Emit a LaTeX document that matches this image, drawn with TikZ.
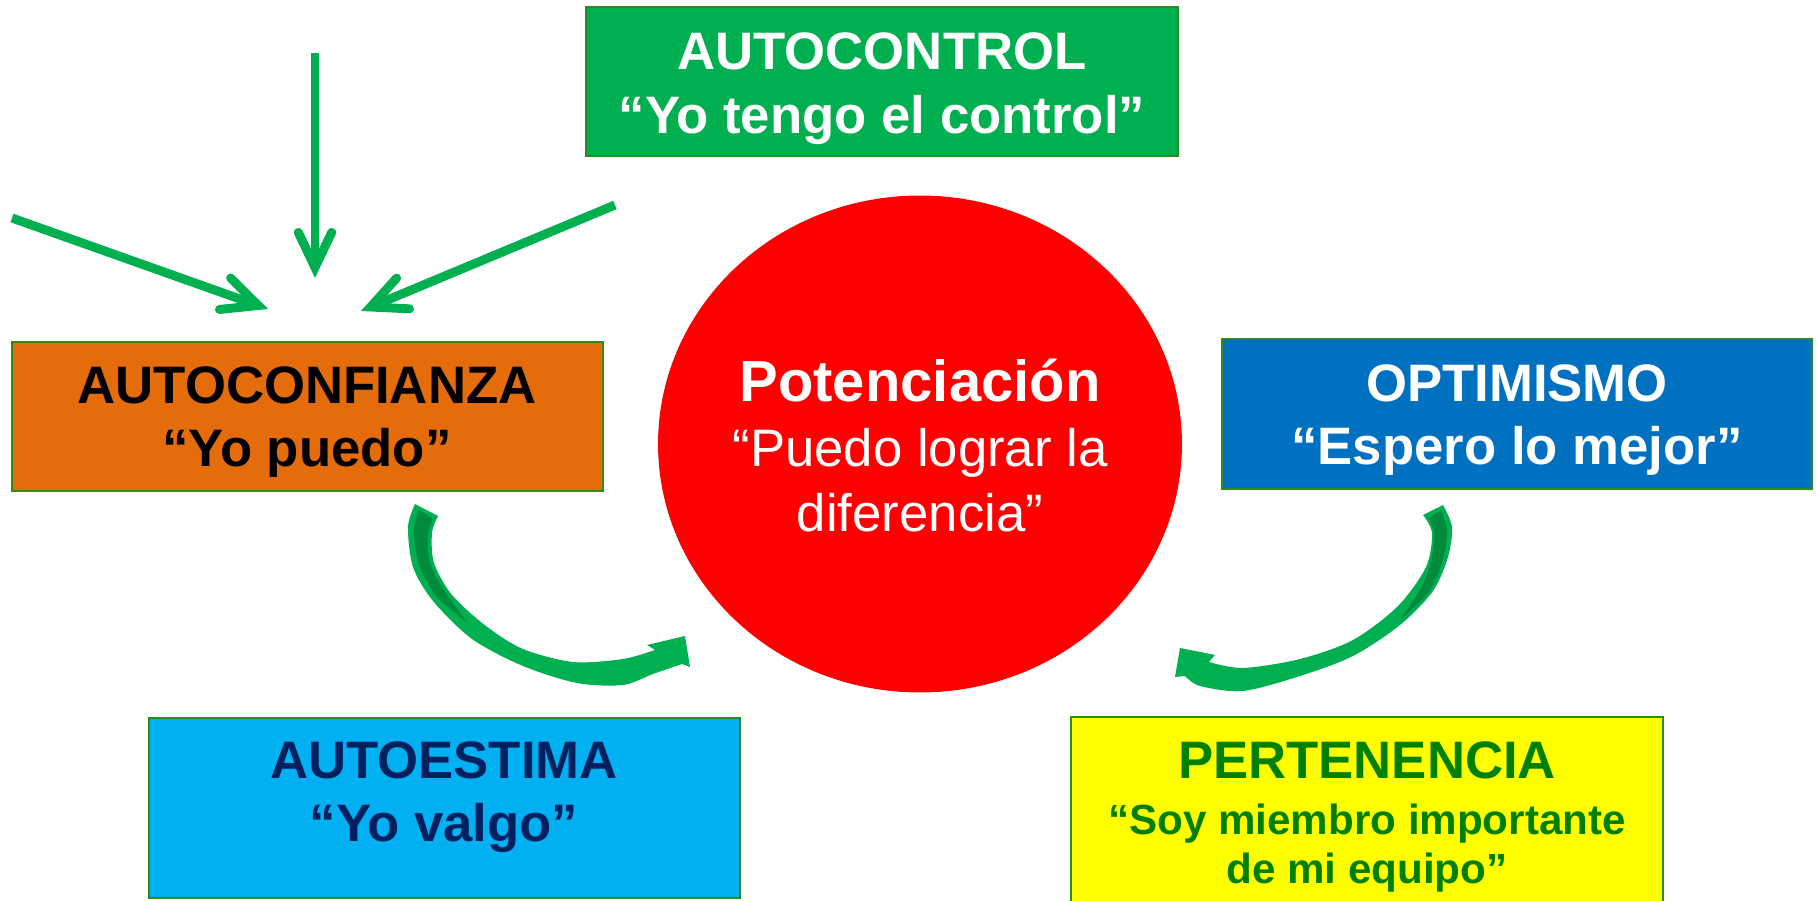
\documentclass[tikz,border=0pt]{standalone}
\usepackage{fontspec}
\setmainfont{Liberation Sans}
\usetikzlibrary{arrows.meta,shapes.geometric,fit}
\definecolor{agreen}{HTML}{00B050}
\definecolor{dgreen}{HTML}{008A3E}
\definecolor{bordergreen}{HTML}{2E8B1E}
\definecolor{orangebox}{HTML}{E46C0A}
\definecolor{bluebox}{HTML}{0070C0}
\definecolor{cyanbox}{HTML}{00B0F0}
\definecolor{navytext}{HTML}{002060}
\definecolor{greentext}{HTML}{008000}
\definecolor{redcircle}{HTML}{FF0000}
\definecolor{yellowbox}{HTML}{FFFF00}
\begin{document}
\begin{tikzpicture}[x=0.02cm,y=-0.02cm,
  box/.style={draw=bordergreen, line width=1pt, inner sep=0pt, rectangle},
  title/.style={anchor=base, inner sep=0pt, font=\fontsize{30}{36}\selectfont\bfseries},
  subtitle/.style={anchor=base, inner sep=0pt, font=\fontsize{24}{29}\selectfont\bfseries},
  bigtitle/.style={anchor=base, inner sep=0pt, font=\fontsize{33}{40}\selectfont\bfseries},
  plain/.style={anchor=base, inner sep=0pt, font=\fontsize{30}{36}\selectfont},
  garrow/.style={draw=agreen, line width=5.1pt, -{Straight Barb[length=20pt, width=19pt, line cap=round, line join=miter]}},
  ribbon/.style={fill=agreen},
  ribbondark/.style={fill=dgreen}]
\useasboundingbox (0,0) rectangle (1816,901);

% boxes
\node[box, fill=agreen, fit={(586,7) (1178,156)}] (autocontrol) {};
\node[box, fill=orangebox, fit={(12,342) (603,491)}] (autoconfianza) {};
\node[box, fill=bluebox, fit={(1222,339) (1812,489)}] (optimismo) {};
\node[box, fill=cyanbox, fit={(149,718) (740,898)}] (autoestima) {};
\node[box, fill=yellowbox, fit={(1071,717) (1663,910)}] (pertenencia) {};
\node[ellipse, fill=redcircle, minimum width=10.48cm, minimum height=9.94cm, inner sep=0pt] (pot) at (920,444) {};

% texts
\node[title, white] (ac1) at (882,70) {AUTOCONTROL};
\node[title, white] (ac2) at (882,134) {“Yo tengo el control”};
\node[title, black] (af1) at (307,404) {AUTOCONFIANZA};
\node[title, black] (af2) at (307,467) {“Yo puedo”};
\node[title, white] (op1) at (1517,402) {OPTIMISMO};
\node[title, white] (op2) at (1517,465) {“Espero lo mejor”};
\node[title, navytext] (ae1) at (444,779) {AUTOESTIMA};
\node[title, navytext] (ae2) at (444,842) {“Yo valgo”};
\node[title, greentext] (pe1) at (1367,779) {PERTENENCIA};
\node[subtitle, greentext] (pe2) at (1367,834) {“Soy miembro importante};
\node[subtitle, greentext] (pe3) at (1367,883) {de mi equipo”};
\node[bigtitle, white] (po1) at (920,402) {Potenciación};
\node[plain, white] (po2) at (920,467) {“Puedo lograr la};
\node[plain, white] (po3) at (920,532) {diferencia”};

% straight arrows
\coordinate (s1) at (12,218);  \coordinate (t1) at (268,309);
\coordinate (s2) at (315,53);  \coordinate (t2) at (315,278);
\coordinate (s3) at (615,205); \coordinate (t3) at (361,311);
\draw[garrow] (s1) -- (t1);
\draw[garrow] (s2) -- (t2);
\draw[garrow] (s3) -- (t3);

% left curved arrow
\fill[ribbon] (415,504) -- plot[smooth] coordinates {(415,504) (408,527) (413,567) (433,601) (472,639) (523,666) (577,683) (623,685) (653,674) (682,664)}
  -- (690,667) -- (685,636) -- (647,645) -- (655,650)
  -- plot[smooth] coordinates {(655,650) (623,659) (573,662) (523,649) (486,626) (452,595) (434,563) (432,533) (438,516)} -- cycle;
\fill[ribbondark] plot[smooth] coordinates {(419,510) (414,530) (419,565) (437,597) (468,623)}
  -- plot[smooth] coordinates {(468,623) (446,593) (430,563) (428,535) (433,519)} -- cycle;

% right curved arrow
\fill[ribbon] (1443,505) -- plot[smooth] coordinates {(1443,505) (1452,527) (1448,557) (1433,591) (1400,625) (1353,656) (1300,676) (1243,691) (1200,686) (1185,676)}
  -- (1175,677) -- (1180,648) -- (1215,655) -- (1209,662)
  -- plot[smooth] coordinates {(1209,662) (1243,668) (1300,659) (1353,640) (1398,606) (1426,567) (1432,533) (1423,515)} -- cycle;
\fill[ribbondark] plot[smooth] coordinates {(1441,510) (1447,530) (1443,560) (1428,593) (1400,620)}
  -- plot[smooth] coordinates {(1400,620) (1420,590) (1431,562) (1434,533) (1429,518)} -- cycle;
\end{tikzpicture}
\end{document}
